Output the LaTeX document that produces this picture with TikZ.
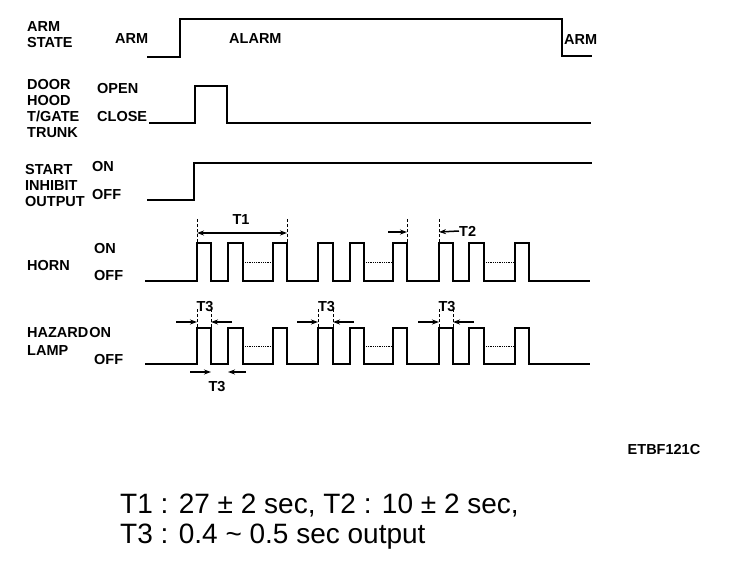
\documentclass[tikz,border=0pt]{standalone}
\usepackage{fontspec}
\setmainfont{Liberation Sans}
\usepackage{tikz}
\usetikzlibrary{arrows.meta, positioning, calc}

\begin{document}
\begin{tikzpicture}[x=1pt, y=-1pt, font=\fontsize{14.5}{16}\selectfont\bfseries]
    \tikzstyle{lbl} = [anchor=west, inner sep=0pt, align=left]
    \tikzstyle{tlbl} = [inner sep=0pt]
    \tikzstyle{wave} = [line width=2pt]
    \tikzstyle{cont} = [densely dotted, line width=0.8pt]
    \tikzstyle{tick} = [line width=0.7pt, dash pattern=on 3pt off 2pt]
    \tikzstyle{arrow} = [line width=1.5pt, >={Stealth[length=7pt,width=5pt]}, ->]
    \def\pulses{197/211, 228/243, 273/287, 318/333, 350/364, 393/407, 439/453, 469/484, 515/529}

    \path [use as bounding box, fill=white] (0,0) rectangle (752,564);

    \node (armst) [lbl] at (27,35) {ARM\\STATE};
    \node (door) [lbl] at (27,109) {DOOR\\HOOD\\T/GATE\\TRUNK};
    \node (start) [lbl] at (25,186) {START\\INHIBIT\\OUTPUT};
    \node (horn) [lbl] at (27,266) {HORN};
    \node (hazard) [lbl] at (27,333) {HAZARD};
    \node (lamp) [lbl] at (27,351) {LAMP};

    \node (arm) [lbl] at (115,39) {ARM};
    \node (alarm) [lbl] at (229,39) {ALARM};
    \node (rearm) [lbl] at (564,40) {ARM};
    \node (open) [lbl] at (97,89) {OPEN};
    \node (close) [lbl] at (97,117) {CLOSE};
    \node (inhon) [lbl] at (92,167) {ON};
    \node (inhoff) [lbl] at (92,195) {OFF};
    \node (hornon) [lbl] at (94,249) {ON};
    \node (hornoff) [lbl] at (94,276) {OFF};
    \node (hazon) [lbl, right=0.5pt of hazard] {ON};
    \node (hazoff) [lbl] at (94,360) {OFF};

    \draw [wave] (147,57) -- (180,57) -- (180,19) -- (562,19) -- (562,56) -- (592,56);
    \draw [wave] (149,123) -- (195,123) -- (195,86) -- (227,86) -- (227,123) -- (591,123);
    \draw [wave] (147,200) -- (194,200) -- (194,163) -- (592,163);
    \draw [wave] (145,281) foreach \r/\f in \pulses { -- (\r,281) -- (\r,243) -- (\f,243) -- (\f,281) } -- (590,281);
    \draw [wave] (145,364) foreach \r/\f in \pulses { -- (\r,364) -- (\r,328) -- (\f,328) -- (\f,364) } -- (590,364);
    \foreach \a/\b in {245/272, 366/392, 486/514} {
        \draw [cont] (\a,262) -- (\b,262);
        \draw [cont] (\a,346) -- (\b,346);
    }

    \draw [tick] (197,219) -- (197,243);
    \draw [tick] (287,219) -- (287,243);
    \coordinate (t1l) at (197,233);
    \coordinate (t1r) at (287,233);
    \draw [arrow, <->] (t1l) -- (t1r);
    \node (t1) [tlbl] at (241,220) {T1};

    \draw [tick] (407,219) -- (407,243);
    \draw [tick] (439,219) -- (439,243);
    \coordinate (t2a) at (388,232);
    \coordinate (t2b) at (407,232);
    \coordinate (t2d) at (439,232);
    \node (t2) [lbl] at (459,231) {T2};
    \draw [arrow] (t2a) -- (t2b);
    \draw [arrow] (t2.west) -- (t2d);

    \foreach \l/\r/\n in {197/211/1, 318/333/2, 439/453/3} {
        \draw [tick] (\l,309) -- (\l,328);
        \draw [tick] (\r,309) -- (\r,328);
        \coordinate (t3l\n) at ({\l-21},322);
        \coordinate (t3r\n) at ({\r+21},322);
        \draw [arrow] (t3l\n) -- (\l,322);
        \draw [arrow] (t3r\n) -- (\r,322);
        \node (t3\n) [tlbl] at ({(\l+\r)/2+1},307) {T3};
    }
    \coordinate (t3a) at (190,372);
    \coordinate (t3b) at (211,372);
    \coordinate (t3c) at (246,372);
    \coordinate (t3d) at (228,372);
    \draw [arrow] (t3a) -- (t3b);
    \draw [arrow] (t3c) -- (t3d);
    \node (t3low) [tlbl] at (217,387) {T3};

    \node (code) [tlbl, font=\fontsize{14.5}{16}\selectfont\bfseries] at (664,450) {ETBF121C};
    \node (note1) [lbl, font=\fontsize{28}{32}\selectfont] at (120,506) {T1 : 27 ± 2 sec, T2 : 10 ± 2 sec,};
    \node (note2) [lbl, font=\fontsize{28}{32}\selectfont] at (120,537) {T3 : 0.4 \textasciitilde{} 0.5 sec output};
\end{tikzpicture}
\end{document}
